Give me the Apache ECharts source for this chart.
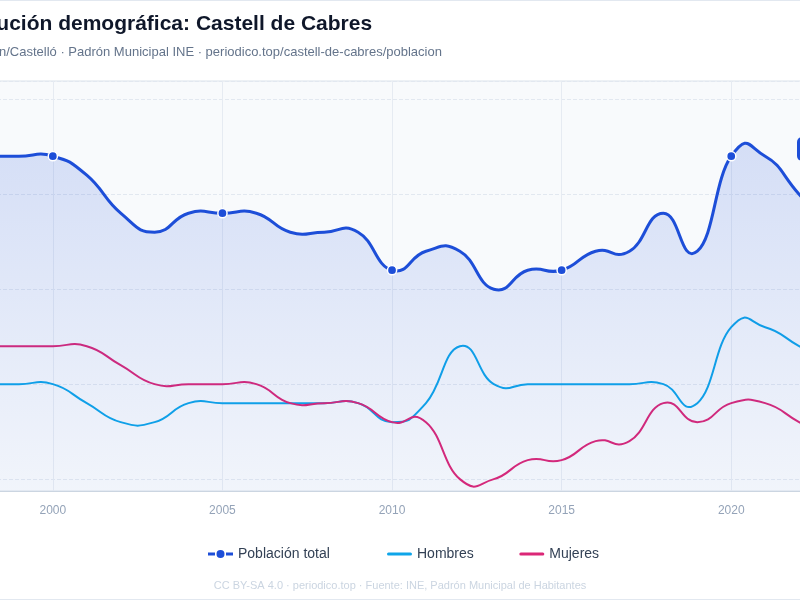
<!DOCTYPE html>
<html>
<head>
<meta charset="utf-8">
<script src="https://cdn.jsdelivr.net/npm/echarts@6/dist/echarts.min.js"></script>
<style>
html,body{margin:0;padding:0;overflow:hidden;background:#fff;width:800px;height:600px}
#frame{position:absolute;left:-62px;top:0;width:924px;height:600px;box-sizing:border-box;border:1px solid #e2e8f0;background:#fff}
#chart{width:100%;height:100%}
</style>
</head>
<body>
<div id="frame"><div id="chart"></div></div>
<script>
const years   = ['1998','1999','2000','2001','2002','2003','2004','2005','2006','2007','2008','2009','2010','2011','2012','2013','2014','2015','2016','2017','2018','2019','2020','2021','2022','2023'];
const total   = [22,22,22,21,19,18,19,19,19,18,18,18,16,17,17,15,16,16,17,17,19,17,22,22,20,18];
const hombres = [10,10,10, 9, 8, 8, 9, 9, 9, 9, 9, 9, 8, 9,12,10,10,10,10,10,10, 9,13,13,12,11];
const mujeres = [12,12,12,12,11,10,10,10,10, 9, 9, 9, 8, 8, 5, 5, 6, 6, 7, 7, 9, 8, 9, 9, 8, 7];
const seriesNames = ['Población total','Hombres','Mujeres'];
const titleText = 'Evolución demográfica: Castell de Cabres';
const subtitleText = 'Castellón/Castelló · Padrón Municipal INE · periodico.top/castell-de-cabres/poblacion';
const footerText = 'CC BY-SA 4.0 · periodico.top · Fuente: INE, Padrón Municipal de Habitantes';

const FONT = '"Liberation Sans", Arial, Helvetica, sans-serif';
const BLUE = '#1d4ed8', CYAN = '#0ea5e9', PINK = '#db2777';
const isFive = (i, v) => (+v) % 5 === 0;
const barIcon = 'path://M1.5,0H23.5A1.5,1.5,0,0,1,23.5,3H1.5A1.5,1.5,0,0,1,1.5,0Z';
const dotIcon = 'path://M0,5.5H7V8.5H0Z M18,5.5H25V8.5H18Z M16.5,7A4,4,0,1,1,8.5,7A4,4,0,1,1,16.5,7Z';

// cardinal-spline path through the points (pixel coords from the axes)
const K = 0.25;
function splinePath(pts) {
  let d = 'M' + pts[0][0] + ',' + pts[0][1];
  for (let i = 0; i < pts.length - 1; i++) {
    const p0 = pts[i > 0 ? i - 1 : i], p1 = pts[i], p2 = pts[i + 1];
    const p3 = pts[i + 2 < pts.length ? i + 2 : i + 1];
    const c1x = p1[0] + (p2[0] - p0[0]) * K, c1y = p1[1] + (p2[1] - p0[1]) * K;
    const c2x = p2[0] - (p3[0] - p1[0]) * K, c2y = p2[1] - (p3[1] - p1[1]) * K;
    d += 'C' + c1x + ',' + c1y + ',' + c2x + ',' + c2y + ',' + p2[0] + ',' + p2[1];
  }
  return d;
}

const areaFill = new echarts.graphic.LinearGradient(0, 0, 0, 1, [
  {offset: 0, color: 'rgba(29,78,216,0.16)'},
  {offset: 1, color: 'rgba(29,78,216,0.03)'}
]);

function curveSeries(name, values, color, width, withArea, withDots, z) {
  return {
    name: name, type: 'custom', coordinateSystem: 'cartesian2d', z: z, clip: true,
    data: values.map((v, i) => [i, v]),
    encode: {x: 0, y: 1},
    itemStyle: {color: color},
    renderItem: function (params, api) {
      const i = params.dataIndex;
      const children = [];
      if (i === 0) {
        const pts = values.map((v, k) => api.coord([k, v]));
        const d = splinePath(pts);
        if (withArea) {
          const cs = params.coordSys;
          const yb = cs.y + cs.height;
          children.push({
            type: 'path', silent: true,
            shape: {pathData: d + 'L' + pts[pts.length - 1][0] + ',' + yb + 'L' + pts[0][0] + ',' + yb + 'Z'},
            style: {fill: areaFill, stroke: null}
          });
        }
        children.push({
          type: 'path', silent: true,
          shape: {pathData: d},
          style: {fill: null, stroke: color, lineWidth: width, lineJoin: 'round', lineCap: 'round'}
        });
      }
      if (withDots && isFive(i, years[i])) {
        const p = api.coord([i, values[i]]);
        children.push({
          type: 'circle', shape: {cx: p[0], cy: p[1], r: 4.6},
          style: {fill: color, stroke: '#fff', lineWidth: 1.5}
        });
      }
      return {type: 'group', children: children};
    }
  };
}

const chart = echarts.init(document.getElementById('chart'), null, {renderer: 'canvas'});
chart.setOption({
  animation: false,
  backgroundColor: '#fff',
  textStyle: {fontFamily: FONT},
  title: [
    {
      text: titleText, subtext: subtitleText,
      left: 13, top: 13, padding: 0, itemGap: 11,
      textStyle: {fontFamily: FONT, fontSize: 21, fontWeight: 700, color: '#0f172a'},
      subtextStyle: {fontFamily: FONT, fontSize: 13, color: '#64748b'}
    },
    {
      text: footerText, left: 'center', top: 579, padding: 0,
      textStyle: {fontFamily: FONT, fontSize: 11, fontWeight: 'normal', color: '#cbd5e1'}
    },
    {
      text: total[total.length - 1] + ' hab.', left: 858, top: 136,
      padding: [6, 9], backgroundColor: BLUE, borderRadius: 5,
      textStyle: {fontFamily: FONT, fontSize: 12, fontWeight: 700, color: '#fff'}
    }
  ],
  legend: {
    top: 546, left: 269, padding: 0, itemWidth: 25, itemHeight: 14, itemGap: 45.5,
    textStyle: {fontFamily: FONT, fontSize: 14, color: '#334155'},
    itemStyle: {borderWidth: 0},
    formatter: name => name === seriesNames[0] ? name + '\u00a0\u00a0\u00a0' : name,
    data: [
      {name: seriesNames[0], icon: dotIcon},
      {name: seriesNames[1], icon: barIcon},
      {name: seriesNames[2], icon: barIcon}
    ]
  },
  grid: {
    left: 46, right: 28, top: 80, bottom: 108,
    show: true, backgroundColor: '#f8fafc', borderColor: '#dbe2ea', borderWidth: 1
  },
  xAxis: {
    type: 'category', data: years, boundaryGap: false,
    axisLine: {lineStyle: {color: '#cbd5e1'}},
    axisTick: {show: false},
    axisLabel: {interval: isFive, color: '#94a3b8', fontSize: 12, margin: 14},
    splitLine: {show: true, interval: isFive, lineStyle: {color: '#e6ebf2', width: 1}}
  },
  yAxis: {
    type: 'value',
    min: v => v.min * 0.875,
    max: v => v.max * 1.18,
    axisLine: {show: false}, axisTick: {show: false},
    axisLabel: {color: '#94a3b8', fontSize: 12, showMinLabel: false, showMaxLabel: false},
    splitLine: {lineStyle: {color: '#e2e8f0', type: 'dashed'}}
  },
  series: [
    curveSeries(seriesNames[0], total, BLUE, 3, true, true, 4),
    curveSeries(seriesNames[1], hombres, CYAN, 2, false, false, 3),
    curveSeries(seriesNames[2], mujeres, PINK, 2, false, false, 3)
  ]
});
</script>
</body>
</html>
